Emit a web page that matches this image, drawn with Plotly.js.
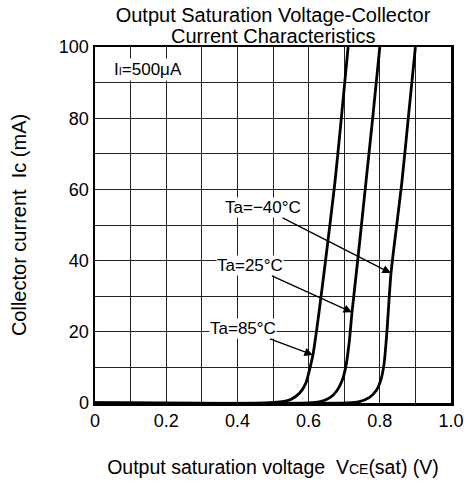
<!DOCTYPE html>
<html><head><meta charset="utf-8">
<script src="https://cdn.plot.ly/plotly-3.0.1.min.js"></script>
<style>body{margin:0;background:#fff}#c{width:464px;height:484px}</style>
</head><body><div id="c"></div>
<script>
var x85 = [0, 0.48, 0.52, 0.55, 0.575, 0.592, 0.603, 0.613, 0.63, 0.65, 0.674, 0.69, 0.711];
var y85 = [0, 0, 0.3, 1, 2.8, 5.5, 9.5, 14, 26, 42, 62, 78, 100];
var x25 = [0, 0.60, 0.63, 0.66, 0.68, 0.695, 0.705, 0.714, 0.722, 0.74, 0.761, 0.78, 0.80];
var y25 = [0, 0, 0.3, 1.5, 3.5, 6.5, 10.5, 17, 25.5, 42, 62, 80, 100];
var xm40 = [0, 0.71, 0.74, 0.77, 0.79, 0.803, 0.812, 0.82, 0.831, 0.845, 0.862, 0.88, 0.90];
var ym40 = [0, 0, 0.3, 1.5, 3.5, 6.5, 11, 20, 36, 48, 62, 80, 100];
var xTickVals = [0, 0.2, 0.4, 0.6, 0.8, 1.0];
var xTickText = ['0', '0.2', '0.4', '0.6', '0.8', '1.0'];
var yTickVals = [0, 20, 40, 60, 80, 100];
var seriesLabels = ['Ta=\u221240\u00b0C', 'Ta=25\u00b0C', 'Ta=85\u00b0C'];
var arrowTips = [[0.831, 36.5], [0.722, 25.5], [0.612, 13.5]];
var labelPos = [[0.472, 54.8], [0.435, 38.5], [0.416, 20.8]];

var F = 'Liberation Sans, Arial, sans-serif';
var line = {color: '#000', width: 2.8, shape: 'spline', smoothing: 0.6};
var traces = [
  {x: x85, y: y85, mode: 'lines', line: line, hoverinfo: 'skip'},
  {x: x25, y: y25, mode: 'lines', line: line, hoverinfo: 'skip'},
  {x: xm40, y: ym40, mode: 'lines', line: line, hoverinfo: 'skip'}
];
var ann = [];
for (var i = 0; i < 3; i++) {
  ann.push({x: arrowTips[i][0], y: arrowTips[i][1], ax: labelPos[i][0], ay: labelPos[i][1],
    axref: 'x', ayref: 'y', xref: 'x', yref: 'y', text: seriesLabels[i], showarrow: true,
    arrowhead: 2, arrowsize: 1.3, arrowwidth: 1.3, arrowcolor: '#000', standoff: 0,
    font: {family: F, size: 17, color: '#000'}, bgcolor: '#fff', borderpad: 0});
}
ann.push({x: 0.149, y: 93.8, xref: 'x', yref: 'y', showarrow: false,
  text: 'I<span style="font-size:11px">I</span>=500\u03bcA', font: {family: F, size: 17, color: '#000'},
  bgcolor: '#fff', borderpad: 1});
ann.push({x: 0.5, y: 1 + 11 / 356, xref: 'paper', yref: 'paper', showarrow: false,
  text: 'Current Characteristics', font: {family: F, size: 20, color: '#000'}, yanchor: 'middle'});

var layout = {
  width: 464, height: 484,
  margin: {l: 95, r: 13, t: 47, b: 81},
  paper_bgcolor: '#fff', plot_bgcolor: '#fff',
  showlegend: false,
  title: {text: 'Output Saturation Voltage-Collector',
    font: {family: F, size: 20, color: '#000'}, xref: 'paper', x: 0.5, xanchor: 'center',
    yref: 'container', y: 1 - 15 / 484, yanchor: 'middle'},
  xaxis: {range: [0, 1], tickvals: xTickVals, ticktext: xTickText, showgrid: true,
    gridcolor: '#222', gridwidth: 1, zeroline: false, showline: true, linecolor: '#000', linewidth: 2.5,
    mirror: true, ticks: '', tickfont: {family: F, size: 18, color: '#000'},
    minor: {tickvals: [0.1, 0.3, 0.5, 0.7, 0.9], showgrid: true, gridcolor: '#222', gridwidth: 1},
    title: {text: 'Output saturation voltage  V<span style="font-size:14px">CE</span>(sat) (V)',
      font: {family: F, size: 19.5, color: '#000'}, standoff: 31}, fixedrange: true},
  yaxis: {range: [0, 100], tickvals: yTickVals, showgrid: true, gridcolor: '#222', gridwidth: 1,
    zeroline: false, showline: true, linecolor: '#000', linewidth: 2.5, mirror: true, ticks: '',
    tickfont: {family: F, size: 18, color: '#000'},
    minor: {tickvals: [10, 30, 50, 70, 90], showgrid: true, gridcolor: '#222', gridwidth: 1},
    title: {text: 'Collector current  Ic (mA)', font: {family: F, size: 20, color: '#000'}, standoff: 27},
    fixedrange: true},
  annotations: ann
};
Plotly.newPlot('c', traces, layout, {staticPlot: true});
</script></body></html>
